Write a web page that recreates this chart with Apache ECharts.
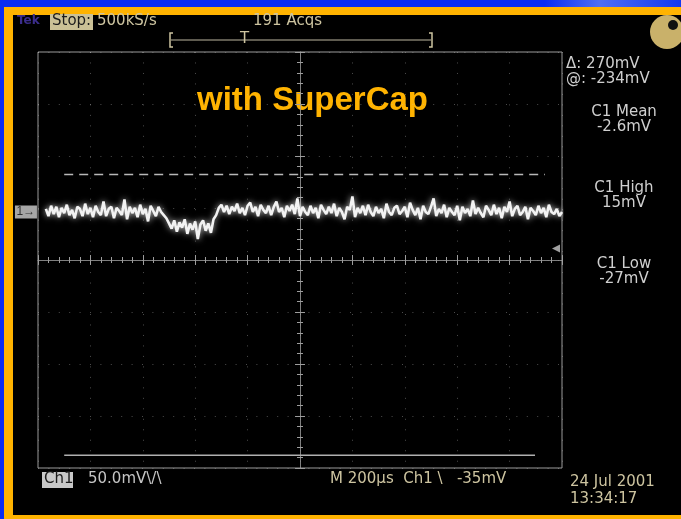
<!DOCTYPE html>
<html>
<head>
<meta charset="utf-8">
<script src="https://cdn.jsdelivr.net/npm/echarts@6/dist/echarts.min.js"></script>
<style>
  html, body { margin: 0; padding: 0; }
  body { width: 681px; height: 519px; position: relative; overflow: hidden;
         background: linear-gradient(90deg, #0a2cf2 0%, #0a2cf2 80%, #4f6ff5 88%, #1238f0 100%); }
  .frame { position: absolute; left: 4px; top: 7px; width: 677px; height: 512px; background: #ffb300; }
  .screen { position: absolute; left: 13px; top: 15px; width: 668px; height: 500px; background: #000; }
  #chart { position: absolute; left: 0; top: 0; width: 681px; height: 519px; }
</style>
</head>
<body>
<div class="frame"></div>
<div class="screen"></div>
<div id="chart"></div>
<script>
// scope settings
const voltsPerDiv = 50      // mV/div
const timePerDiv = 200      // us/div
const groundDiv = 0.923     // ch1 ground marker, divisions above centre
const sampleStep = 10       // us between points
const traceStart = 30       // us

// trace values (mV)
const beforeDip = [3,-4,6,-2,5,-5,4,-1,7,-3,2,-6,5,3,-4,8,-2,4,-5,6,0,-3,10,-4,3,5,-6,4,1,-3,12,-7,5,-1,4,-5,7,-2,3,-9,6,1,-4,5,0,-3]
const dip = [-6,-11,-16,-8,-19,-10,-15,-7,-21,-11,-17,-9,-26,-12,-8,-18,-11,-20,-7,-3]
const afterDip = [4,7,0,6,-2,5,1,8,-1,4,-3,6,9,0,5,-4,7,2,-1,6,
  -3,5,10,0,4,-5,6,1,7,-2,13,-4,5,0,-3,6,-1,4,-6,7,
  2,-2,5,-1,8,-4,4,0,-7,5,2,15,-5,4,-1,6,-3,7,0,-4,
  5,-1,3,-6,8,0,-3,4,6,-2,1,5,-5,9,2,-3,4,-7,6,0,
  -2,5,13,-4,3,-1,7,-5,4,0,-3,6,-8,5,-1,3,-4,11,-2,4,
  -1,-5,6,2,-3,7,-2,4,-6,5,0,10,-4,3,6,-3,0,5,-7,4,
  1,-3,6,-1,4,-5,7,0,-2,3,-4,0]

// cursors (mV) and their extent (us)
const cursorDelta = 270
const cursorAt = -234
const upperCursorX = [100, 1935]
const lowerCursorX = [100, 1897]
const triggerLevel = -35

const readouts = ['\u0394: 270mV', '@: -234mV']
const measures = [['C1 Mean', '-2.6mV'], ['C1 High', '15mV'], ['C1 Low', '-27mV']]

const traceMv = beforeDip.concat(dip, afterDip)
const traceData = traceMv.map((v, i) => [traceStart + i * sampleStep, v])

const yMin = (-4 - groundDiv) * voltsPerDiv
const yMax = (4 - groundDiv) * voltsPerDiv
const tMax = 10 * timePerDiv

const chart = echarts.init(document.getElementById('chart'), null, { renderer: 'canvas' })

const font = '15px "DejaVu Sans"'
const grey = '#cfcfcf'
const tan = '#cdc4a0'
const gridCol = 'rgba(190,190,190,0.4)'
const lineCol = '#9a9a9a'
const centreCol = 'rgba(160,160,160,0.55)'

function gratAxis(pos, isX, extra) {
  return Object.assign({
    gridIndex: 0, type: 'value',
    min: isX ? -5 : -4, max: isX ? 5 : 4, interval: 1,
    position: pos,
    axisLabel: { show: false },
    axisLine: { show: false },
    axisTick: { show: true, inside: true, length: 5, lineStyle: { color: lineCol } },
    minorTick: { show: true, splitNumber: 5, length: 3, lineStyle: { color: lineCol } },
    splitLine: { show: false }
  }, extra || {})
}

const centreLine = { show: true, onZero: true, onZeroAxisIndex: 0, lineStyle: { color: centreCol, width: 1 } }
const centreTicks = {
  axisTick: { show: true, inside: true, length: 4, lineStyle: { color: centreCol } },
  minorTick: { show: true, splitNumber: 5, length: 3, lineStyle: { color: centreCol } }
}

chart.setOption({
  animation: false,
  backgroundColor: 'transparent',
  grid: [{ left: 38, top: 52, width: 524, height: 416, show: true, borderColor: lineCol, borderWidth: 1, backgroundColor: 'transparent' }],
  xAxis: [
    gratAxis('bottom', true, { splitLine: { show: true, lineStyle: { color: gridCol, type: [1, 9.48] } } }),
    gratAxis('top', true),
    gratAxis('bottom', true, Object.assign({ axisLine: centreLine }, centreTicks)),
    gratAxis('top', true, Object.assign({ axisLine: centreLine }, centreTicks)),
    { gridIndex: 0, type: 'value', min: 0, max: tMax, show: false }
  ],
  yAxis: [
    gratAxis('left', false, { splitLine: { show: true, lineStyle: { color: gridCol, type: [1, 9.4] } } }),
    gratAxis('right', false),
    gratAxis('left', false, Object.assign({ axisLine: centreLine }, centreTicks)),
    gratAxis('right', false, Object.assign({ axisLine: centreLine }, centreTicks)),
    { gridIndex: 0, type: 'value', min: yMin, max: yMax, show: false }
  ],
  series: [
    {
      type: 'line', xAxisIndex: 4, yAxisIndex: 4,
      data: [[upperCursorX[0], cursorAt + cursorDelta], [upperCursorX[1], cursorAt + cursorDelta]],
      showSymbol: false, silent: true,
      lineStyle: { color: '#b8b8b8', width: 1.5, type: [9, 6] }
    },
    {
      type: 'line', xAxisIndex: 4, yAxisIndex: 4,
      data: [[lowerCursorX[0], cursorAt], [lowerCursorX[1], cursorAt]],
      showSymbol: false, silent: true,
      lineStyle: { color: '#b0b0b0', width: 1.5 }
    },
    {
      type: 'line', xAxisIndex: 4, yAxisIndex: 4,
      data: traceData, showSymbol: false,
      lineStyle: { color: '#f2f2f2', width: 2.6, shadowBlur: 6, shadowColor: 'rgba(255,255,255,0.75)' }
    },
    {
      type: 'scatter', xAxisIndex: 4, yAxisIndex: 4, clip: false,
      data: [[tMax - 23, triggerLevel]],
      symbol: 'triangle', symbolRotate: 90, symbolSize: 8,
      itemStyle: { color: '#c8c8c8' }
    },
    {
      type: 'scatter', xAxisIndex: 4, yAxisIndex: 4, clip: false,
      data: [[-46, 0]],
      symbol: 'rect', symbolSize: [22, 13],
      itemStyle: { color: '#cfcfcf' },
      label: { show: true, position: 'inside', formatter: '1\u2192', color: '#111', font: 'bold 11px "DejaVu Sans"' }
    }
  ],
  graphic: [
    { type: 'text', left: 17, top: 15, style: { text: 'Tek', font: 'bold 12px "DejaVu Sans"', fill: '#3b2d8c' } },
    { type: 'rect', shape: { x: 50, y: 14, width: 43, height: 16 }, style: { fill: '#cbc196' } },
    { type: 'text', left: 52, top: 14, style: { text: 'Stop:', font: font, fill: '#1c1c1c' } },
    { type: 'text', left: 97, top: 14, style: { text: '500kS/s', font: font, fill: tan } },
    { type: 'text', left: 253, top: 14, style: { text: '191 Acqs', font: font, fill: tan } },
    { type: 'polyline', shape: { points: [[173, 33], [170, 33], [170, 47], [173, 47]] }, style: { stroke: tan, lineWidth: 1.5, fill: null } },
    { type: 'polyline', shape: { points: [[429, 33], [432, 33], [432, 47], [429, 47]] }, style: { stroke: tan, lineWidth: 1.5, fill: null } },
    { type: 'line', shape: { x1: 171, y1: 40, x2: 431, y2: 40 }, style: { stroke: '#bdb7a0', lineWidth: 1 } },
    { type: 'text', left: 240, top: 32, style: { text: 'T', font: font, fill: tan } },
    { type: 'circle', shape: { cx: 667, cy: 32, r: 17 }, style: { fill: '#c9b16a' } },
    { type: 'circle', shape: { cx: 673, cy: 25, r: 5 }, style: { fill: '#111' } },
    { type: 'text', left: 197, top: 84, style: { text: 'with SuperCap', font: 'bold 33px "Liberation Sans"', fill: '#ffb300' } },
    { type: 'text', left: 566, top: 57, style: { text: readouts[0], font: font, fill: grey } },
    { type: 'text', left: 566, top: 72, style: { text: readouts[1], font: font, fill: grey } },
    { type: 'text', x: 624, y: 105, style: { text: measures[0][0] + '\n' + measures[0][1], font: font, fill: grey, align: 'center', lineHeight: 15 } },
    { type: 'text', x: 624, y: 181, style: { text: measures[1][0] + '\n' + measures[1][1], font: font, fill: grey, align: 'center', lineHeight: 15 } },
    { type: 'text', x: 624, y: 257, style: { text: measures[2][0] + '\n' + measures[2][1], font: font, fill: grey, align: 'center', lineHeight: 15 } },
    { type: 'rect', shape: { x: 42, y: 472, width: 31, height: 16 }, style: { fill: '#c8c8c8' } },
    { type: 'text', left: 44, top: 472, style: { text: 'Ch1', font: font, fill: '#1a1a1a' } },
    { type: 'text', left: 88, top: 472, style: { text: '50.0mV\\/\\', font: font, fill: '#c4c4c4' } },
    { type: 'text', left: 330, top: 472, style: { text: 'M 200\u00b5s  Ch1 \\   -35mV', font: font, fill: tan } },
    { type: 'text', left: 570, top: 475, style: { text: '24 Jul 2001', font: font, fill: tan } },
    { type: 'text', left: 570, top: 492, style: { text: '13:34:17', font: font, fill: tan } }
  ]
})
</script>
</body>
</html>
